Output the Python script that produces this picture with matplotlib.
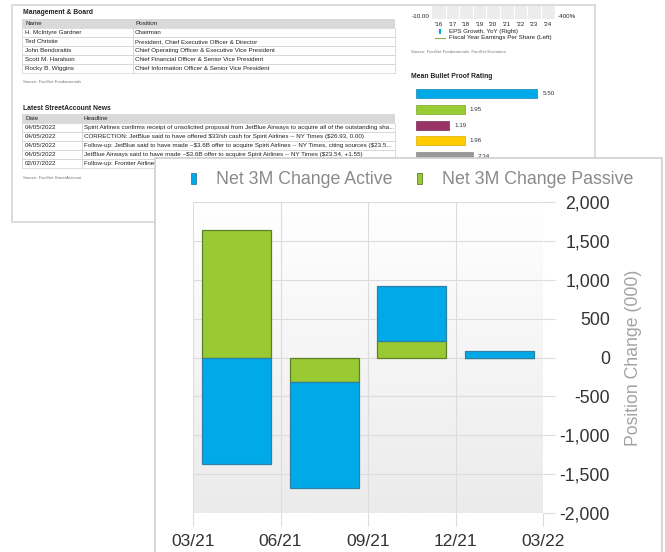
import numpy as np
import matplotlib
matplotlib.use("Agg")
import matplotlib.pyplot as plt
from matplotlib.patches import Rectangle
from matplotlib.colors import LinearSegmentedColormap

plt.rcParams["font.family"] = ["Liberation Sans", "DejaVu Sans"]
plt.rcParams["text.parse_math"] = False

W, H = 665, 552

# main chart data (position change, thousands of shares)
quarters = ["03/21", "06/21", "09/21", "12/21", "03/22"]
active_change = [-1370, -1365, 708, 84]
passive_change = [1640, -315, 212, 0]

# background report: tables
mgmt_names = ["H. McIntyre Gardner", "Ted Christie", "John Bendoraitis",
              "Scott M. Haralson", "Rocky B. Wiggins"]
mgmt_positions = ["Chairman",
                  "President, Chief Executive Officer & Director",
                  "Chief Operating Officer & Executive Vice President",
                  "Chief Financial Officer & Senior Vice President",
                  "Chief Information Officer & Senior Vice President"]
news_dates = ["04/05/2022", "04/05/2022", "04/05/2022", "04/05/2022", "02/07/2022"]
news_headlines = [
    "Spirit Airlines confirms receipt of unsolicited proposal from JetBlue Airways to acquire all of the outstanding sha...",
    "CORRECTION: JetBlue said to have offered $33/sh cash for Spirit Airlines -- NY Times ($26.93, 0.00)",
    "Follow-up: JetBlue said to have made ~$3.6B offer to acquire Spirit Airlines -- NY Times, citing sources ($23.5...",
    "JetBlue Airways said to have made ~$3.6B offer to acquire Spirit Airlines -- NY Times ($23.54, +1.55)",
    "Follow-up: Frontier Airlines",
]

# background report: small EPS chart and bullet proof rating
eps_years = [2016, 2017, 2018, 2019, 2020, 2021, 2022, 2023, 2024]
rating_values = [5.50, 1.95, 1.19, 1.96, 2.34]
rating_colors = ["#00a9e8", "#99cc33", "#993366", "#ffcc00", "#999999"]
rating_base = -0.43

BLUE, BLUE_EDGE = "#00a9e8", "#2f7fa6"
GREEN, GREEN_EDGE = "#99c933", "#607f2c"


def px_rect(x0, y0, x1, y1):
    return [x0 / W, 1 - y1 / H, (x1 - x0) / W, (y1 - y0) / H]


fig = plt.figure(figsize=(W / 100, H / 100), dpi=100)
fig.patch.set_facecolor("white")

# ---- background report page ----
bg = fig.add_axes([0, 0, 1, 1], zorder=0)
bg.set_xlim(0, W)
bg.set_ylim(H, 0)
bg.axis("off")

bg.add_patch(Rectangle((12, 5), 583, 217, facecolor="white", edgecolor="#d6d6d6", lw=1.2))

txt = "#222222"
small = 4.5


def draw_table(x0, xs, x1, y_head, headers, col1, col2, row_h=9.15):
    bg.add_patch(Rectangle((x0, y_head), x1 - x0, row_h, facecolor="#d9d9d9", edgecolor="none"))
    bg.text(x0 + 3, y_head + row_h / 2, headers[0], fontsize=small, color=txt, va="center")
    bg.text(xs + 2, y_head + row_h / 2, headers[1], fontsize=small, color=txt, va="center")
    for i, (a, b) in enumerate(zip(col1, col2)):
        y = y_head + row_h * (i + 1)
        bg.add_patch(Rectangle((x0, y), xs - x0, row_h, facecolor="white", edgecolor="#cfcfcf", lw=0.5))
        bg.add_patch(Rectangle((xs, y), x1 - xs, row_h, facecolor="white", edgecolor="#cfcfcf", lw=0.5))
        bg.text(x0 + 3, y + row_h / 2, a, fontsize=small, color=txt, va="center")
        bg.text(xs + 2, y + row_h / 2, b, fontsize=small, color=txt, va="center")


bg.text(23, 12, "Management & Board", fontsize=4.9, fontweight="bold", color=txt, va="center")
draw_table(22, 133, 395, 18.5, ["Name", "Position"], mgmt_names, mgmt_positions)
bg.text(23, 82, "Source: FactSet Fundamentals", fontsize=3.1, color="#777777", va="center")

bg.text(23, 108, "Latest StreetAccount News", fontsize=4.9, fontweight="bold", color=txt, va="center")
draw_table(22, 82, 395, 113.5, ["Date", "Headline"], news_dates, news_headlines)
bg.text(23, 178, "Source: FactSet StreetAccount", fontsize=3.1, color="#777777", va="center")

# EPS mini chart (only its bottom strip is visible)
bg.text(430, 16, "-10.00", fontsize=small, color=txt, ha="right", va="center")
bg.text(558, 16, "-400%", fontsize=small, color=txt, ha="left", va="center")
bg.add_patch(Rectangle((439, 28.5), 2, 5, facecolor=BLUE, edgecolor="none"))
bg.text(449, 31, "EPS Growth, YoY (Right)", fontsize=small, color=txt, va="center")
bg.plot([435, 445], [37.5, 37.5], color="#8fb04a", lw=0.8)
bg.text(449, 38, "Fiscal Year Earnings Per Share (Left)", fontsize=small, color=txt, va="center")
bg.text(411, 52, "Source: FactSet Fundamentals, FactSet Estimates", fontsize=3.1, color="#777777", va="center")
bg.text(411, 77, "Mean Bullet Proof Rating", fontsize=4.9, fontweight="bold", color=txt, va="center")

eps_ax = fig.add_axes(px_rect(432, 6, 555, 19), zorder=1)
eps_ax.set_facecolor("#ececec")
eps_ax.set_xlim(eps_years[0] - 0.5, eps_years[-1] + 0.55)
eps_ax.set_ylim(0, 1)
eps_ax.set_xticks(eps_years)
eps_ax.set_xticklabels(["'" + str(y)[2:] for y in eps_years])
eps_ax.set_xticks([y + 0.5 for y in eps_years[:-1]], minor=True)
eps_ax.grid(True, which="minor", axis="x", color="white", lw=0.8)
eps_ax.tick_params(axis="x", which="both", length=0, labelsize=small, labelcolor=txt, pad=2)
eps_ax.set_yticks([])
for s in eps_ax.spines.values():
    s.set_visible(False)

# bullet proof rating bars
rt = fig.add_axes(px_rect(413, 83, 582, 172), zorder=1)
rt.set_facecolor("white")
idx = np.arange(len(rating_values))
vals = np.array(rating_values)
rt.barh(idx, vals - rating_base, left=rating_base, height=0.57,
        color=rating_colors, edgecolor=["#1b86b8", "#7aa52a", "#7a2850", "#d9ad00", "#888888"], lw=0.5)
for i, v in zip(idx, vals):
    rt.text(v + 0.25, i, f"{v:.2f}", fontsize=small, color="#333333", va="center")
rt.set_xlim(-0.58, 7.70)
rt.set_ylim(4.98, -0.667)
rt.axis("off")

# ---- front panel ----
panel = fig.add_axes([0, 0, 1, 1], zorder=2)
panel.set_xlim(0, W)
panel.set_ylim(H, 0)
panel.axis("off")
panel.add_patch(Rectangle((154.5, 158), 507.5, 400, facecolor="white", edgecolor="#d0d0d0", lw=1.2))

panel.add_patch(Rectangle((191, 172.5), 5, 11.5, facecolor=BLUE, edgecolor=BLUE_EDGE, lw=0.6))
panel.text(216, 183.5, "Net 3M Change Active", fontsize=12.8, color="#8a8a8a", va="baseline")
panel.add_patch(Rectangle((417, 172.5), 5, 11.5, facecolor=GREEN, edgecolor=GREEN_EDGE, lw=0.6))
panel.text(442, 183.5, "Net 3M Change Passive", fontsize=12.8, color="#8a8a8a", va="baseline")

# ---- main chart ----
ax = fig.add_axes(px_rect(193, 202, 543, 513), zorder=3)
ax.patch.set_alpha(0)
grad = LinearSegmentedColormap.from_list("grad", ["#ffffff", "#ebebeb"])
ax.imshow(np.linspace(0, 1, 256).reshape(-1, 1), extent=[0, 1, 0, 1], transform=ax.transAxes,
          cmap=grad, aspect="auto", zorder=0)

x = np.arange(len(active_change)) + 0.5
passive = np.array(passive_change)
active = np.array(active_change)
active_bottom = np.where(np.sign(active) == np.sign(passive), passive, 0)
ax.bar(x, passive, width=0.79, color=GREEN, edgecolor=GREEN_EDGE, lw=0.9, zorder=2)
ax.bar(x, active, bottom=active_bottom, width=0.79, color=BLUE, edgecolor=BLUE_EDGE, lw=0.9, zorder=2)

ax.set_xlim(0, 4)
ax.set_ylim(-2000, 2000)
ax.set_xticks(range(len(quarters)))
ax.set_xticklabels(quarters)
yt = list(range(-2000, 2001, 500))
ax.set_yticks(yt)
ax.set_yticklabels([f"{v:,}" for v in yt])
ax.yaxis.tick_right()
ax.grid(True, color="#dcdcdc", lw=0.8)
ax.set_axisbelow(True)
for s in ax.spines.values():
    s.set_visible(False)
ax.tick_params(axis="y", length=8.6, width=0.8, color="#dcdcdc", pad=39.6,
               labelsize=12.7, labelcolor="#333333")
for lab in ax.get_yticklabels():
    lab.set_ha("right")
ax.tick_params(axis="x", length=9.4, width=0.8, color="#dcdcdc", pad=5.5,
               labelsize=12.5, labelcolor="#333333")

ax.set_ylabel("Position Change (000)", fontsize=12.7, color="#a3a3a3")
ax.yaxis.set_label_position("right")
ax.yaxis.set_label_coords((633 - 193) / 350, 0.5)
ax.yaxis.label.set_va("center")
ax.yaxis.label.set_ha("center")

fig.savefig("out.png", dpi=100, facecolor="white")
